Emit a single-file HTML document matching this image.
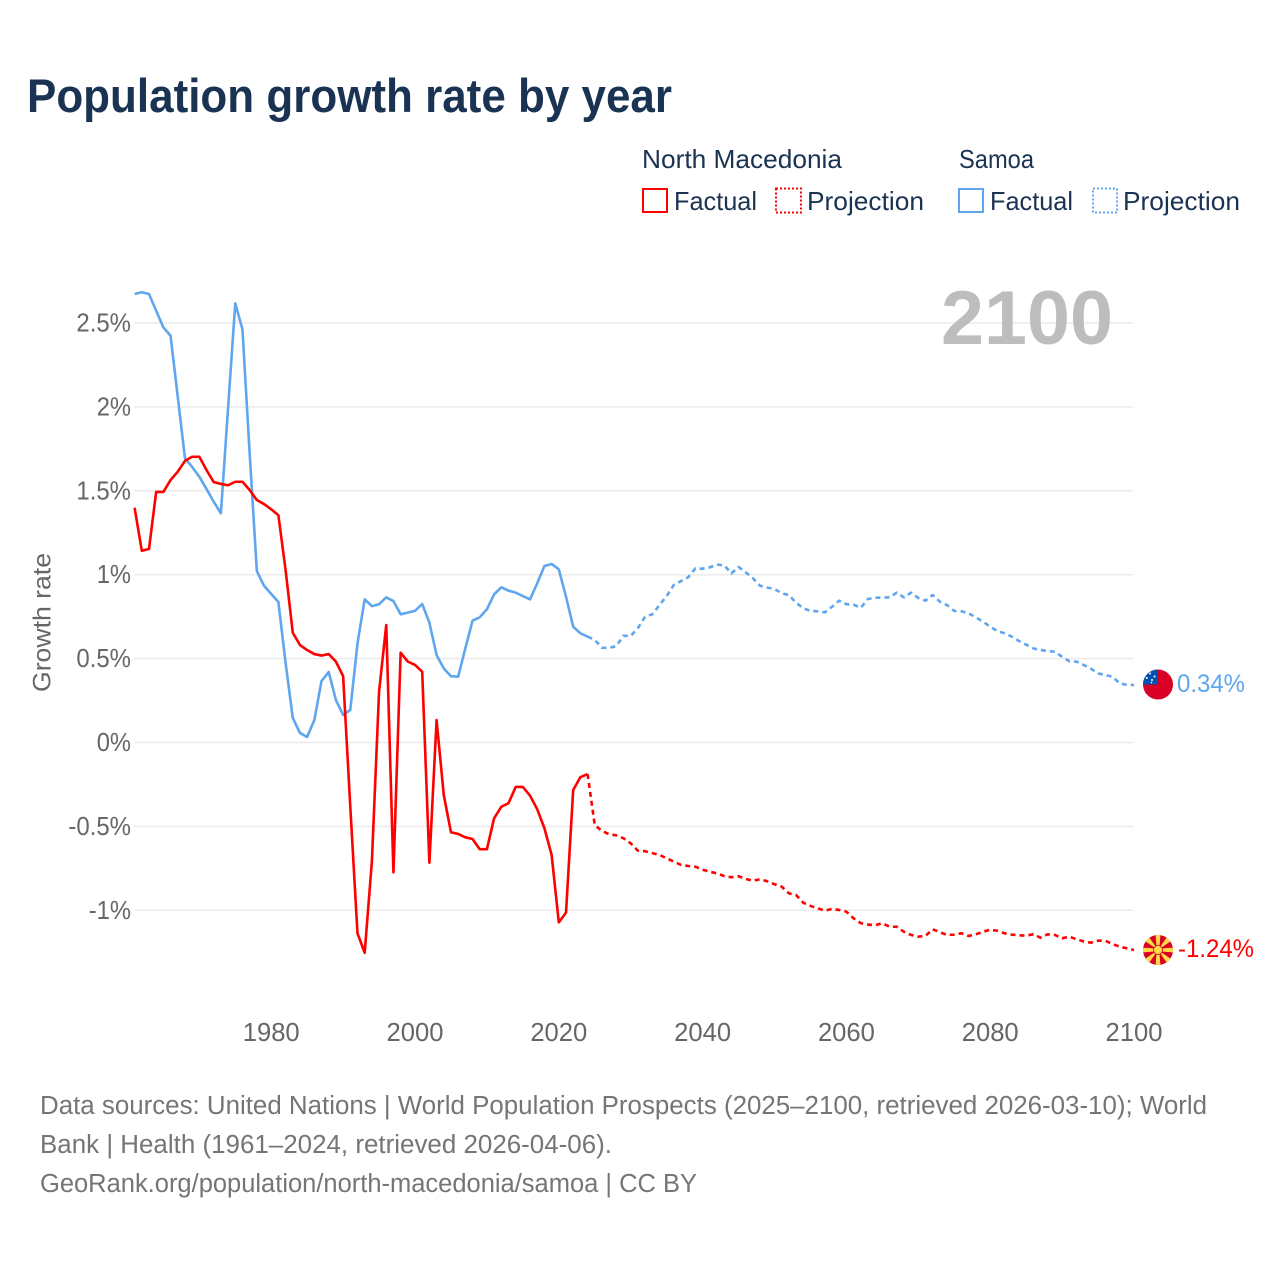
<!DOCTYPE html>
<html lang="en">
<head>
<meta charset="utf-8">
<title>Population growth rate by year</title>
<style>
  html, body { margin: 0; padding: 0; background: #fff; }
  svg { display: block; font-family: "Liberation Sans", sans-serif; }
</style>
</head>
<body>
<svg id="chart" xmlns="http://www.w3.org/2000/svg" width="1280" height="1280" viewBox="0 0 1280 1280">
  <rect width="1280" height="1280" fill="#ffffff"/>
  <text x="27" y="112" font-size="47" font-weight="700" fill="#1a3353" textLength="645" lengthAdjust="spacingAndGlyphs">Population growth rate by year</text>

  <g font-size="26" fill="#1a3353">
    <text x="642" y="168" textLength="200" lengthAdjust="spacingAndGlyphs">North Macedonia</text>
    <text x="959" y="168" textLength="75" lengthAdjust="spacingAndGlyphs">Samoa</text>
    <g>
      <rect x="643" y="189" width="24" height="23" fill="none" stroke="#ff0000" stroke-width="2"/>
      <text x="674" y="210" textLength="83" lengthAdjust="spacingAndGlyphs">Factual</text>
    </g>
    <g>
      <rect x="776" y="188.500" width="25" height="24" fill="none" stroke="#ff0000" stroke-width="2" stroke-dasharray="2 2"/>
      <text x="807" y="210" textLength="117" lengthAdjust="spacingAndGlyphs">Projection</text>
    </g>
    <g>
      <rect x="959" y="189" width="24" height="23" fill="none" stroke="#5fa6ee" stroke-width="2"/>
      <text x="990" y="210" textLength="83" lengthAdjust="spacingAndGlyphs">Factual</text>
    </g>
    <g>
      <rect x="1093" y="188.500" width="24" height="24" fill="none" stroke="#5fa6ee" stroke-width="2" stroke-dasharray="2 2"/>
      <text x="1123" y="210" textLength="117" lengthAdjust="spacingAndGlyphs">Projection</text>
    </g>
  </g>

  <g id="gridlines"></g>
  <g id="y-ticks"></g>
  <g id="x-ticks"></g>

  <text x="941" y="344" font-size="76" font-weight="700" fill="#bdbdbd" textLength="172" lengthAdjust="spacingAndGlyphs">2100</text>

  <text transform="translate(50.500 692) rotate(-90)" font-size="25" fill="#666666" textLength="139" lengthAdjust="spacingAndGlyphs">Growth rate</text>

  <g id="series"></g>

  <g>
    <clipPath id="samoa-clip"><circle cx="1158" cy="684.500" r="15"/></clipPath>
    <g clip-path="url(#samoa-clip)">
      <rect x="1143" y="669" width="30" height="31" fill="#d80027"/>
      <rect x="1143" y="669" width="15" height="15.500" fill="#0052b4"/>
      <g fill="#ffffff">
        <circle cx="1150" cy="673.500" r="1"/>
        <circle cx="1154.500" cy="676.500" r="1"/>
        <circle cx="1146.800" cy="678" r="1"/>
        <circle cx="1152" cy="680" r="1"/>
        <circle cx="1151.500" cy="682.500" r="0.800"/>
      </g>
    </g>
  </g>
  <text id="samoa-end-label" x="1177" y="692" font-size="25" fill="#5fa6ee" textLength="68" lengthAdjust="spacingAndGlyphs">0.34%</text>

  <g>
    <clipPath id="mk-clip"><circle cx="1158" cy="950" r="15"/></clipPath>
    <g clip-path="url(#mk-clip)">
      <rect x="1143" y="935" width="30" height="30" fill="#d80027"/>
      <g fill="#ffda44">
        <polygon points="1156.800,950 1155.500,934 1160.500,934 1159.200,950"/>
        <polygon points="1156.800,950 1155.500,966 1160.500,966 1159.200,950"/>
        <polygon points="1158,948.800 1142,947.500 1142,952.500 1158,951.200"/>
        <polygon points="1158,948.800 1174,947.500 1174,952.500 1158,951.200"/>
        <polygon points="1158,950 1143.500,940 1148,935.500"/>
        <polygon points="1158,950 1172.500,940 1168,935.500"/>
        <polygon points="1158,950 1143.500,960 1148,964.500"/>
        <polygon points="1158,950 1172.500,960 1168,964.500"/>
      </g>
      <circle cx="1158" cy="950" r="4.500" fill="#ffda44" stroke="#d80027" stroke-width="0.800"/>
    </g>
  </g>
  <text id="mk-end-label" x="1178" y="957" font-size="25" fill="#ff0000" textLength="76" lengthAdjust="spacingAndGlyphs">-1.24%</text>

  <g font-size="25.500" fill="#757575">
    <text x="40" y="1114" textLength="1167" lengthAdjust="spacingAndGlyphs">Data sources: United Nations | World Population Prospects (2025–2100, retrieved 2026-03-10); World</text>
    <text x="40" y="1153" textLength="572" lengthAdjust="spacingAndGlyphs">Bank | Health (1961–2024, retrieved 2026-04-06).</text>
    <text x="40" y="1192" textLength="657" lengthAdjust="spacingAndGlyphs">GeoRank.org/population/north-macedonia/samoa | CC BY</text>
  </g>
</svg>
<script>
const yTickValues = [2.5, 2, 1.5, 1, 0.5, 0, -0.5, -1];
const yTickLabels = ["2.5%", "2%", "1.5%", "1%", "0.5%", "0%", "-0.5%", "-1%"];
const xTickValues = [1980, 2000, 2020, 2040, 2060, 2080, 2100];
const xTickLabels = ["1980", "2000", "2020", "2040", "2060", "2080", "2100"];
const factualStartYear = 1961;
const projectionStartYear = 2024;

const samoaFactual = [2.673,2.683,2.673,2.573,2.474,2.424,2.061,1.695,1.642,1.584,1.511,1.435,1.366,1.993,2.617,2.462,1.725,1.022,0.934,0.885,0.837,0.474,0.146,0.057,0.033,0.134,0.367,0.420,0.253,0.164,0.194,0.591,0.853,0.813,0.824,0.865,0.843,0.764,0.774,0.785,0.825,0.714,0.521,0.442,0.395,0.392,0.561,0.726,0.746,0.794,0.883,0.925,0.905,0.893,0.873,0.853,0.949,1.052,1.064,1.032,0.869,0.690,0.651,0.631];

const samoaProjection = [0.631,0.611,0.565,0.563,0.575,0.636,0.635,0.682,0.750,0.764,0.819,0.873,0.939,0.962,0.985,1.038,1.036,1.044,1.060,1.056,1.008,1.046,1.014,0.979,0.934,0.923,0.915,0.889,0.879,0.833,0.800,0.784,0.782,0.776,0.809,0.845,0.824,0.821,0.803,0.855,0.863,0.863,0.865,0.893,0.865,0.893,0.861,0.845,0.879,0.839,0.819,0.784,0.782,0.770,0.746,0.720,0.690,0.664,0.651,0.631,0.605,0.583,0.561,0.551,0.545,0.541,0.511,0.484,0.482,0.462,0.440,0.412,0.402,0.392,0.353,0.343,0.343];

const macedoniaFactual = [1.399,1.143,1.153,1.493,1.493,1.564,1.614,1.678,1.703,1.703,1.624,1.552,1.541,1.533,1.554,1.554,1.505,1.445,1.421,1.390,1.354,1.028,0.654,0.581,0.551,0.527,0.518,0.527,0.482,0.396,-0.383,-1.137,-1.253,-0.710,0.303,0.700,-0.774,0.535,0.482,0.462,0.422,-0.716,0.134,-0.313,-0.535,-0.545,-0.565,-0.575,-0.636,-0.636,-0.452,-0.383,-0.362,-0.265,-0.265,-0.317,-0.398,-0.511,-0.670,-1.072,-1.014,-0.283,-0.207,-0.188];

const macedoniaProjection = [-0.188,-0.492,-0.527,-0.547,-0.553,-0.571,-0.601,-0.645,-0.648,-0.659,-0.670,-0.690,-0.710,-0.730,-0.736,-0.740,-0.758,-0.770,-0.780,-0.796,-0.803,-0.797,-0.813,-0.824,-0.815,-0.827,-0.845,-0.859,-0.899,-0.909,-0.955,-0.974,-0.988,-1.002,-0.992,-0.998,-1.008,-1.048,-1.077,-1.085,-1.089,-1.077,-1.098,-1.098,-1.128,-1.147,-1.157,-1.153,-1.113,-1.131,-1.147,-1.145,-1.137,-1.153,-1.143,-1.128,-1.116,-1.122,-1.137,-1.145,-1.149,-1.151,-1.143,-1.163,-1.143,-1.147,-1.167,-1.157,-1.173,-1.185,-1.193,-1.181,-1.181,-1.201,-1.217,-1.226,-1.237];

const NS = "http://www.w3.org/2000/svg";
function xScale(year) { return 134.6 + (year - 1961) * 7.19; }
function yScale(value) { return 742.5 - value * 167.8; }

function pathFrom(values, startYear) {
  return values.map(function (v, i) {
    return (i ? "L" : "M") + xScale(startYear + i).toFixed(2) + " " + yScale(v).toFixed(2);
  }).join(" ");
}

function yLabelWidth(s) {
  var w = 0;
  for (var i = 0; i < s.length; i++) {
    var c = s[i];
    w += c === "%" ? 20 : c === "." ? 6 : c === "-" ? 8 : 14.3;
  }
  return w;
}

var gridGroup = document.getElementById("gridlines");
var yTickGroup = document.getElementById("y-ticks");
yTickValues.forEach(function (v, i) {
  var line = document.createElementNS(NS, "line");
  line.setAttribute("x1", 134);
  line.setAttribute("x2", 1133);
  line.setAttribute("y1", yScale(v));
  line.setAttribute("y2", yScale(v));
  line.setAttribute("stroke", "#ebebeb");
  line.setAttribute("stroke-width", "1.5");
  
  
  gridGroup.appendChild(line);

  var t = document.createElementNS(NS, "text");
  t.textContent = yTickLabels[i];
  t.setAttribute("x", 131 - yLabelWidth(yTickLabels[i]));
  t.setAttribute("y", yScale(v) + 8.5);
  t.setAttribute("font-size", "25.6");
  t.setAttribute("fill", "#666666");
  t.setAttribute("textLength", yLabelWidth(yTickLabels[i]));
  t.setAttribute("lengthAdjust", "spacingAndGlyphs");
  
  
  yTickGroup.appendChild(t);
});

var xTickGroup = document.getElementById("x-ticks");
xTickValues.forEach(function (year, i) {
  var t = document.createElementNS(NS, "text");
  t.textContent = xTickLabels[i];
  t.setAttribute("x", xScale(year));
  t.setAttribute("y", 1041);
  t.setAttribute("font-size", "25.6");
  t.setAttribute("fill", "#666666");
  t.setAttribute("text-anchor", "middle");
  
  
  xTickGroup.appendChild(t);
});

var seriesGroup = document.getElementById("series");
function drawSeries(values, startYear, color, dashed, name) {
  var p = document.createElementNS(NS, "path");
  p.setAttribute("d", pathFrom(values, startYear));
  p.setAttribute("fill", "none");
  p.setAttribute("stroke", color);
  p.setAttribute("stroke-width", "2.6");
  p.setAttribute("stroke-linejoin", "round");
  if (dashed) { p.setAttribute("stroke-dasharray", "5 4"); }
  
  
  seriesGroup.appendChild(p);
}
drawSeries(samoaFactual, factualStartYear, "#5fa6ee", false, "samoa-factual-line");
drawSeries(samoaProjection, projectionStartYear, "#5fa6ee", true, "samoa-projection-line");
drawSeries(macedoniaFactual, factualStartYear, "#ff0000", false, "north-macedonia-factual-line");
drawSeries(macedoniaProjection, projectionStartYear, "#ff0000", true, "north-macedonia-projection-line");
</script>
</body>
</html>
